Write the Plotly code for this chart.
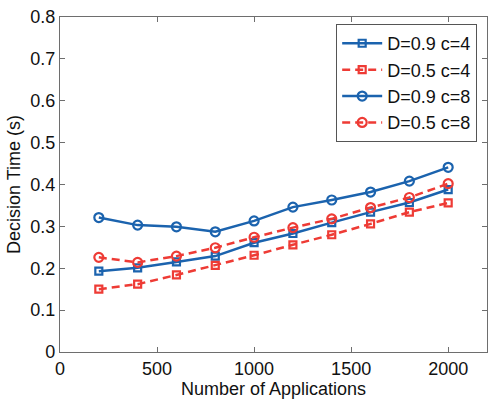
import plotly.graph_objects as go

apps = [200, 400, 600, 800, 1000, 1200, 1400, 1600, 1800, 2000]

d09_c4 = [0.193, 0.201, 0.215, 0.229, 0.261, 0.283, 0.309, 0.334, 0.357, 0.388]
d05_c4 = [0.150, 0.162, 0.184, 0.207, 0.231, 0.256, 0.280, 0.306, 0.334, 0.356]
d09_c8 = [0.321, 0.303, 0.299, 0.287, 0.313, 0.346, 0.363, 0.382, 0.408, 0.441]
d05_c8 = [0.226, 0.214, 0.229, 0.249, 0.274, 0.297, 0.318, 0.345, 0.369, 0.402]

names = ["D=0.9 c=4", "D=0.5 c=4", "D=0.9 c=8", "D=0.5 c=8"]
series = [d09_c4, d05_c4, d09_c8, d05_c8]

BLUE = "#1b63ae"
RED = "#ee3b35"
styles = [
    dict(color=BLUE, dash="solid", symbol="square-open", size=7),
    dict(color=RED, dash="8px,5px", symbol="square-open", size=7),
    dict(color=BLUE, dash="solid", symbol="circle-open", size=9),
    dict(color=RED, dash="8px,5px", symbol="circle-open", size=9),
]

FONT = "Liberation Sans, Arial"

fig = go.Figure()
for name, vals, st in zip(names, series, styles):
    fig.add_trace(go.Scatter(
        x=apps, y=vals, name=name, mode="lines+markers",
        line=dict(color=st["color"], width=2.5, dash=st["dash"]),
        marker=dict(symbol=st["symbol"], size=st["size"], color=st["color"],
                    line=dict(color=st["color"], width=2.2)),
    ))

axis_common = dict(
    showgrid=False, zeroline=False, showline=True, linecolor="#6e6e6e",
    linewidth=1.2, mirror="ticks", ticks="inside", ticklen=5,
    tickcolor="#6e6e6e", tickfont=dict(family=FONT, size=18, color="#111"),
)

fig.update_layout(
    width=489, height=405,
    margin=dict(l=60, r=2, t=17, b=53),
    paper_bgcolor="white", plot_bgcolor="white",
    font=dict(family=FONT, size=18, color="#111"),
    xaxis=dict(range=[0, 2200], tickvals=[0, 500, 1000, 1500, 2000],
               title=dict(text="Number of Applications", standoff=1,
                          font=dict(size=18)), **axis_common),
    yaxis=dict(range=[0, 0.8], dtick=0.1, tickformat=".1~f",
               title=dict(text="Decision Time (s)", standoff=4,
                          font=dict(size=18)), **axis_common),
    legend=dict(x=0.977, y=0.979, xanchor="right", yanchor="top",
                bordercolor="#555", borderwidth=1, bgcolor="white",
                font=dict(size=18), tracegroupgap=0, itemwidth=40),
    showlegend=True,
)

fig.write_html("out.html")
